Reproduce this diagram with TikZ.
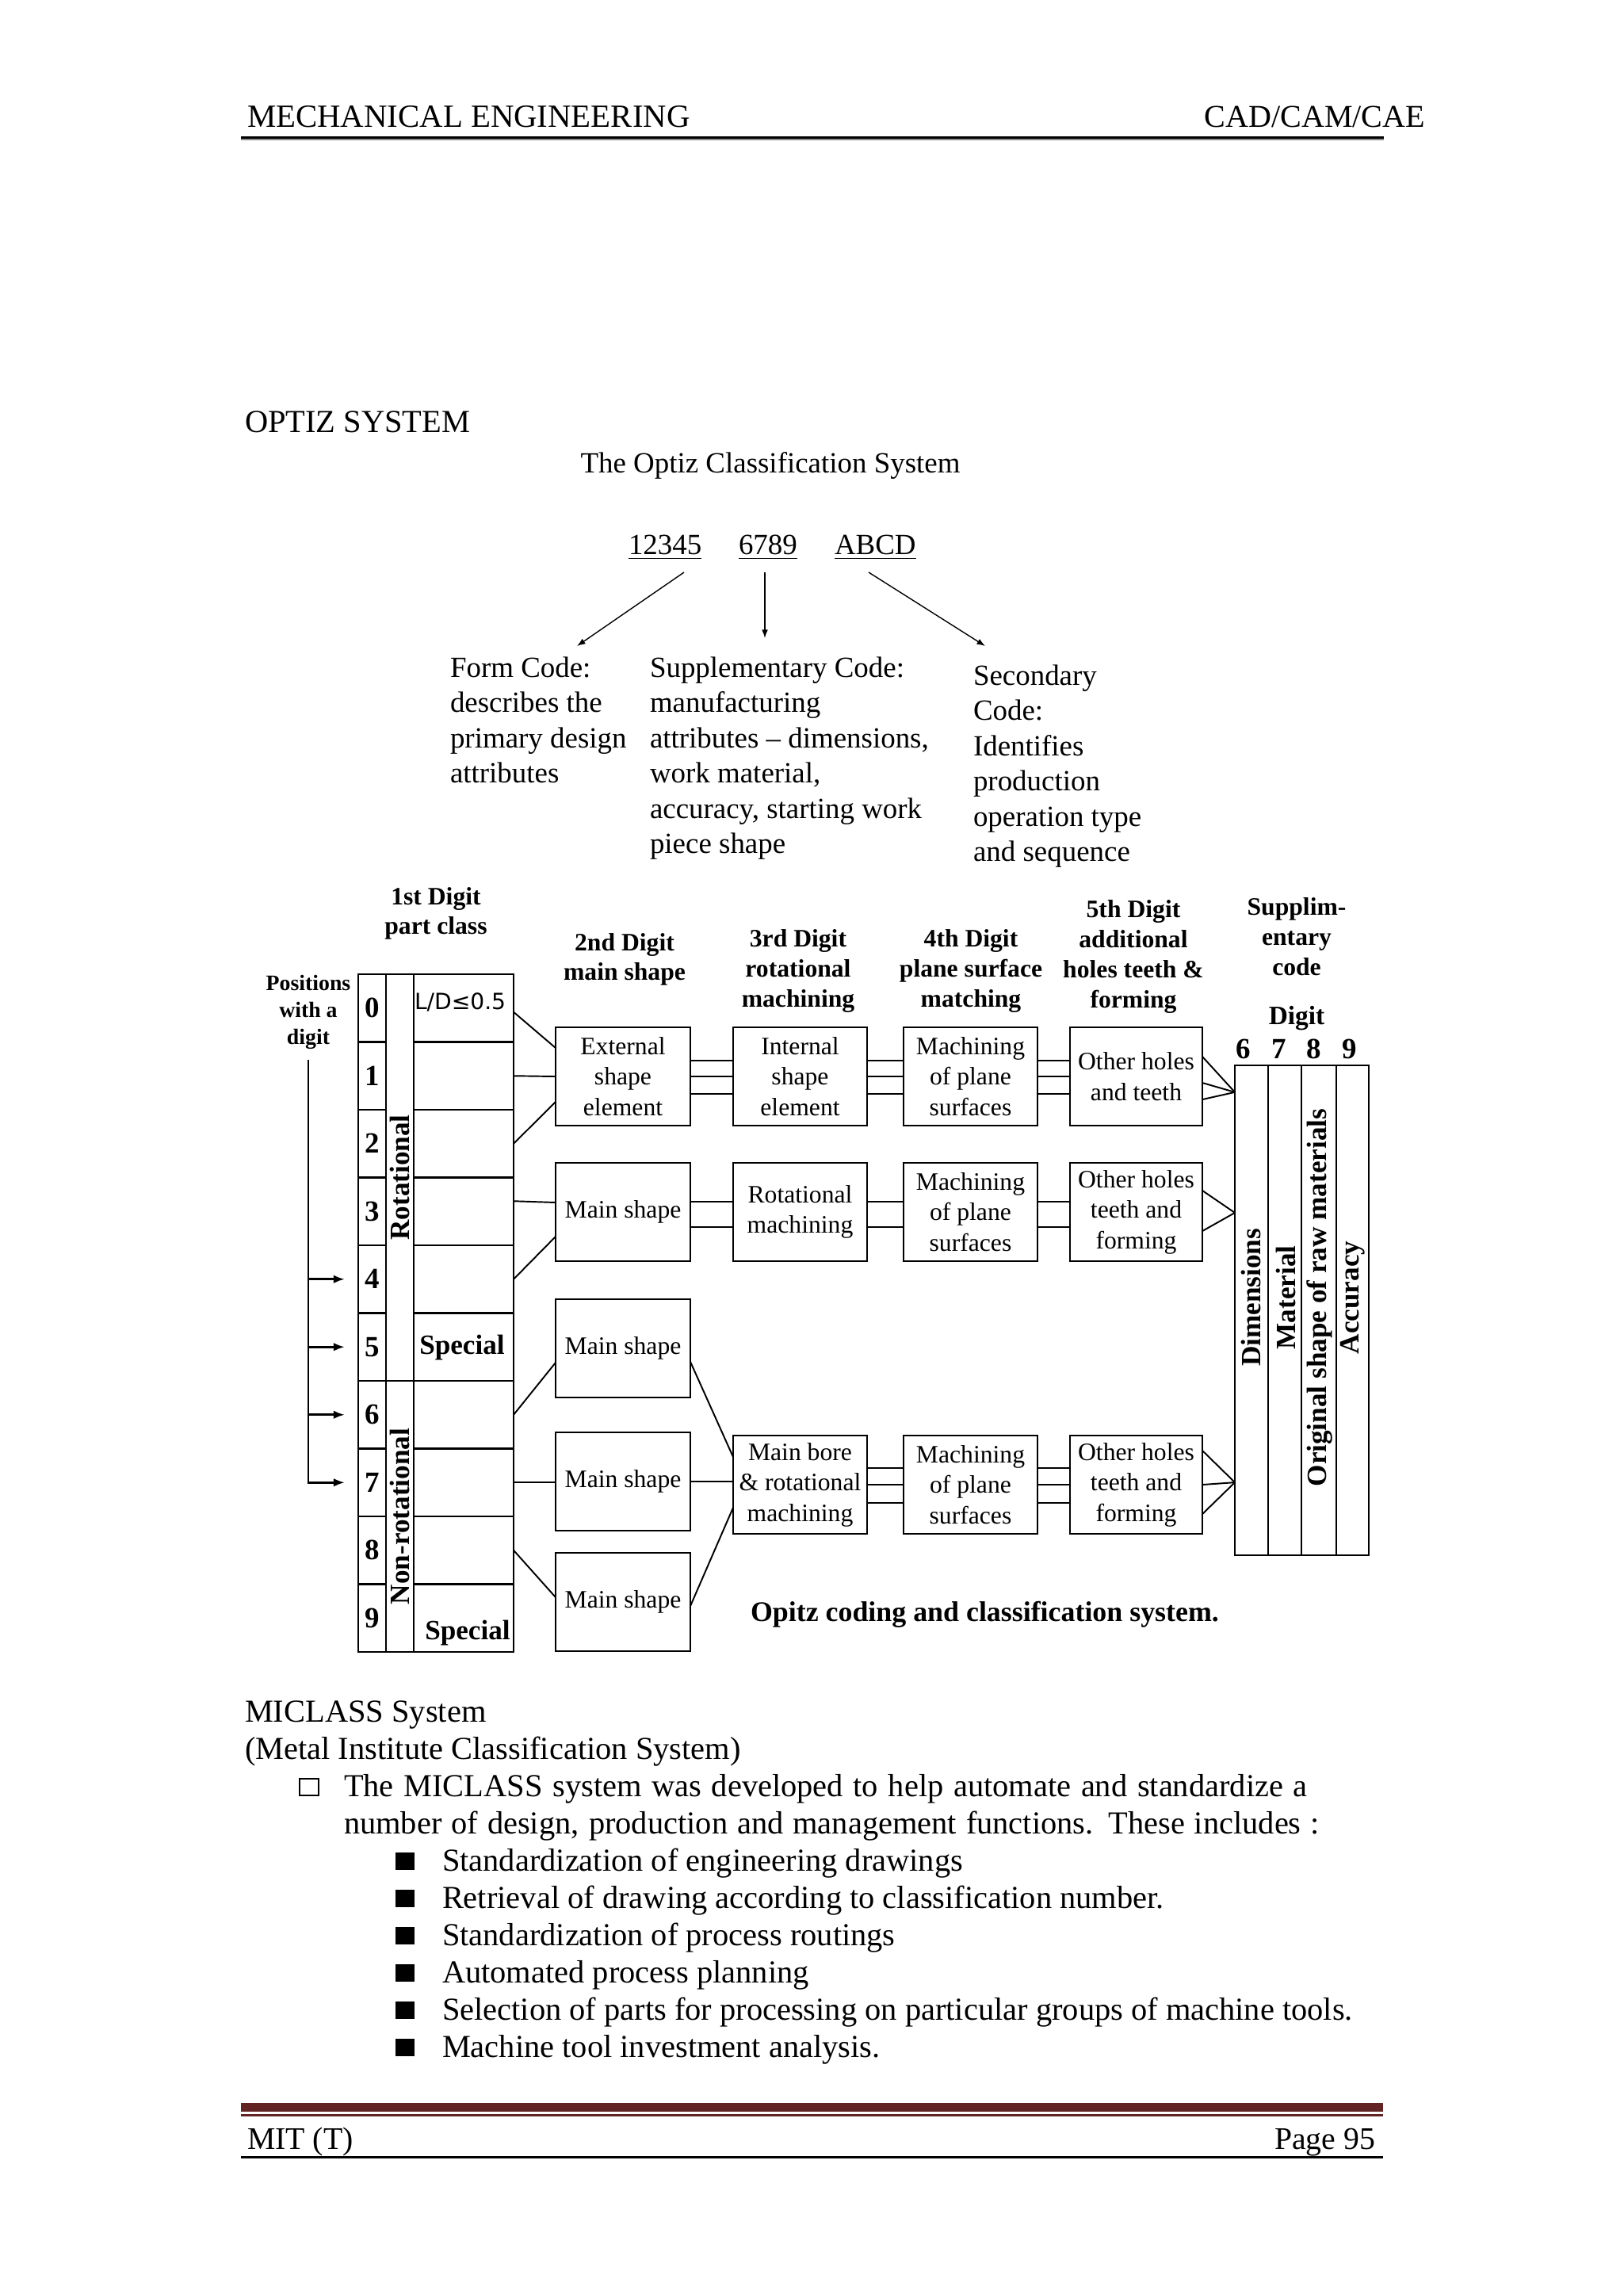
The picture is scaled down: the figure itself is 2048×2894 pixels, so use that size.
\documentclass[tikz,border=0pt]{standalone}
\usepackage{fontspec}
\setmainfont{Liberation Serif}
\newfontfamily\djv{DejaVu Sans}
\usetikzlibrary{arrows.meta,calc}
\definecolor{footred}{HTML}{622423}
\newcommand\myfs[2]{\fontsize{#1}{#2}\selectfont}
\begin{document}
\begin{tikzpicture}[x=0.01cm,y=-0.01cm,
  lbl/.style={inner sep=0,outer sep=0},
  obox/.style={draw,line width=0.7pt,inner sep=0,outer sep=0,align=center,minimum width=1.70cm,minimum height=1.24cm,font=\myfs{9}{10.95}},
  hdr/.style={inner sep=0,outer sep=0,align=center,anchor=north,font=\bfseries\myfs{9}{10.8}},
  cell/.style={draw,line width=0.7pt,inner sep=0,outer sep=0},
  conn/.style={line width=0.55pt},
  tarr/.style={line width=0.4pt,-{Latex[length=3pt,width=2.2pt]}},
  parr/.style={line width=0.8pt,-{Latex[length=4pt,width=3pt]},shorten >=0.17cm},
  body/.style={inner sep=0,outer sep=0,anchor=north west,align=left,font=\myfs{10.5}{12.66}},
  mic/.style={inner sep=0,outer sep=0,anchor=base west,font=\myfs{11.5}{13.4}},
  rlab/.style={inner sep=0,outer sep=0,rotate=90,font=\bfseries\myfs{10}{12}},
]
\useasboundingbox (0,0) rectangle (2048,2894);
\fill[white] (0,0) rectangle (2048,2894);

% ---------- page header ----------
\node[lbl,anchor=base west,font=\myfs{11.6}{13}] (hl) at (312,160) {MECHANICAL ENGINEERING};
\node[lbl,anchor=base east,font=\myfs{11.4}{13}] (hr) at (1798,160) {CAD/CAM/CAE};
\fill[black] (304,172) rectangle (1746,175);
\fill[black!45] (304,175) rectangle (1746,177);

% ---------- top part ----------
\node[lbl,anchor=base west,font=\myfs{11.5}{13}] (optiz) at (309,545) {OPTIZ SYSTEM};
\node[lbl,anchor=base,font=\myfs{10.5}{12}] (title) at (972,596) {The Optiz Classification System};
\node[lbl,anchor=base west,font=\myfs{10.5}{12}] (n1) at (793,699) {\underline{12345}};
\node[lbl,anchor=base west,font=\myfs{10.5}{12}] (n2) at (932,699) {\underline{6789}};
\node[lbl,anchor=base west,font=\myfs{10.5}{12}] (n3) at (1053,699) {\underline{ABCD}};

\node[body] (form) at (568,822.85) {\strut Form Code:\\describes the\\primary design\\attributes};
\node[body] (suppc) at (820,822.85) {\strut Supplementary Code:\\manufacturing\\attributes -- dimensions,\\work material,\\accuracy, starting work\\piece shape};
\node[body] (secc) at (1228,832.85) {\strut Secondary\\Code:\\Identifies\\production\\operation type\\and sequence};

\coordinate (a1s) at (863,722); \coordinate (a1e) at (728,815);
\coordinate (a2s) at (965,722); \coordinate (a2e) at (965,805);
\coordinate (a3s) at (1096,722); \coordinate (a3e) at (1243,815);
\draw[tarr] (a1s) -- (a1e);
\draw[tarr] (a2s) -- (a2e);
\draw[tarr] (a3s) -- (a3e);

% ---------- headers of the chart ----------
\node[lbl,anchor=north,align=center,font=\bfseries\myfs{7.9}{9.53}] (pos) at (389,1226.5) {\strut Positions\\with a\\digit};
\node[hdr,font=\bfseries\myfs{9}{10.5}] (h1) at (550,1116) {\strut 1st Digit\\part class};
\node[hdr,font=\bfseries\myfs{9}{10.5}] (h2) at (788,1174) {\strut 2nd Digit\\main shape};
\node[hdr] (h3) at (1007,1168) {\strut 3rd Digit\\rotational\\machining};
\node[hdr] (h4) at (1225,1168) {\strut 4th Digit\\plane surface\\matching};
\node[hdr] (h5) at (1430,1131) {\strut 5th Digit\\additional\\holes teeth \&\\forming};
\node[hdr] (h6) at (1636,1128) {\strut Supplim-\\entary\\code};
\node[lbl,anchor=base,font=\bfseries\myfs{9.5}{11}] (dg) at (1636,1292) {Digit};
\foreach \x/\d in {1569/6,1614/7,1658/8,1703/9}
  \node[lbl,anchor=base,font=\bfseries\myfs{10.5}{12}] (dh\d) at (\x,1335) {\d};

% ---------- first digit table ----------
\foreach \i in {0,...,9}{
  \node[cell,minimum width=0.35cm,minimum height=0.855cm,font=\bfseries\myfs{10.5}{12}] (d\i) at (469.5,{1271.75+85.5*\i}) {\i};
  \node[cell,minimum width=1.26cm,minimum height=0.855cm] (c\i) at (585,{1271.75+85.5*\i}) {};
}
\node[cell,minimum width=0.35cm,minimum height=5.13cm] (rot) at (504.5,1485.5) {};
\node[cell,minimum width=0.35cm,minimum height=3.42cm] (nrot) at (504.5,1913) {};
\node[rlab] (rotl) at (rot.center) {Rotational};
\node[rlab] (nrotl) at (nrot.center) {Non-rotational};
\node[lbl,anchor=base west,font=\djv\myfs{8}{10}] (ld) at (523,1273) {L/D≤0.5};
\node[lbl,anchor=base,font=\bfseries\myfs{10}{12}] (sp5) at (583,1708) {Special};
\node[lbl,anchor=base,font=\bfseries\myfs{10}{12}] (sp9) at (590,2068) {Special};

% positions arrows
\draw[parr] ([yshift=-0.14cm]pos.south) |- (d7.west);
\foreach \i in {4,5,6}
  \draw[parr] (pos.south |- d\i.west) -- (d\i.west);

% ---------- boxes ----------
\node[obox] (A1) at (786,1358) {External\\shape\\element};
\node[obox] (A2) at (786,1529) {Main shape};
\node[obox] (A3) at (786,1701) {Main shape};
\node[obox] (A4) at (786,1869) {Main shape};
\node[obox] (A5) at (786,2021) {Main shape};
\node[obox,minimum width=1.69cm] (B1) at (1009.5,1358) {Internal\\shape\\element};
\node[obox,minimum width=1.69cm] (B2) at (1009.5,1529) {Rotational\\machining};
\node[obox,minimum width=1.69cm] (B3) at (1009.5,1873) {Main bore\\\& rotational\\machining};
\node[obox,minimum width=1.69cm] (C1) at (1224.5,1358) {Machining\\of plane\\surfaces};
\node[obox,minimum width=1.69cm] (C2) at (1224.5,1529) {Machining\\of plane\\surfaces};
\node[obox,minimum width=1.69cm] (C3) at (1224.5,1873) {Machining\\of plane\\surfaces};
\node[obox,minimum width=1.67cm] (D1) at (1433.5,1358) {Other holes\\and teeth};
\node[obox,minimum width=1.67cm] (D2) at (1433.5,1529) {Other holes\\teeth and\\forming};
\node[obox,minimum width=1.67cm] (D3) at (1433.5,1873) {Other holes\\teeth and\\forming};

% supplementary table
\node[cell,minimum width=0.42cm,minimum height=6.18cm] (s6) at (1579,1653) {};
\node[cell,minimum width=0.42cm,minimum height=6.18cm] (s7) at (1621,1653) {};
\node[cell,minimum width=0.44cm,minimum height=6.18cm] (s8) at (1664,1653) {};
\node[cell,minimum width=0.41cm,minimum height=6.18cm] (s9) at (1706.5,1653) {};
\node[rlab] (t6) at (1578,1637) {Dimensions};
\node[rlab] (t7) at (1622,1637) {Material};
\node[rlab] (t8) at (1665,1637) {Original shape of raw materials};
\node[rlab] (t9) at (1707,1637) {Accuracy};

% ---------- connectors ----------
\draw[conn] ([yshift=-0.05cm]c0.east) -- ([yshift=0.36cm]A1.west);
\draw[conn] (c1.east) -- (A1.west);
\draw[conn] (c2.east) -- ([yshift=-0.32cm]A1.west);
\draw[conn] ([yshift=0.13cm]c3.east) -- ([yshift=0.12cm]A2.west);
\draw[conn] (c4.east) -- ([yshift=-0.31cm]A2.west);
\draw[conn] (c6.east) -- ([yshift=-0.18cm]A3.west);
\draw[conn] (c7.east) -- (A4.west |- c7.east);
\draw[conn] (c8.east) -- ([yshift=0.06cm]A5.west);

\foreach \s in {0.20,0,-0.22}{
  \draw[conn] ([yshift=\s*1cm]A1.east) -- ([yshift=\s*1cm]B1.west);
  \draw[conn] ([yshift=\s*1cm]B1.east) -- ([yshift=\s*1cm]C1.west);
  \draw[conn] ([yshift=\s*1cm]C1.east) -- ([yshift=\s*1cm]D1.west);
}
\foreach \s in {0.13,-0.19}{
  \draw[conn] ([yshift=\s*1cm]A2.east) -- ([yshift=\s*1cm]B2.west);
  \draw[conn] ([yshift=\s*1cm]B2.east) -- ([yshift=\s*1cm]C2.west);
  \draw[conn] ([yshift=\s*1cm]C2.east) -- ([yshift=\s*1cm]D2.west);
}
\draw[conn] ([yshift=-0.17cm]A3.east) -- ([yshift=0.35cm]B3.west);
\draw[conn] (A4.east) -- (B3.west |- A4.east);
\draw[conn] ([yshift=-0.05cm]A5.east) -- ([yshift=-0.29cm]B3.west);
\foreach \s in {0.21,0,-0.23}{
  \draw[conn] ([yshift=\s*1cm]B3.east) -- ([yshift=\s*1cm]C3.west);
  \draw[conn] ([yshift=\s*1cm]C3.east) -- ([yshift=\s*1cm]D3.west);
}
\foreach \s in {0.25,-0.08,-0.29}
  \draw[conn] ([yshift=\s*1cm]D1.east) -- ([yshift=2.75cm]s6.west);
\foreach \s in {0.27,-0.24}
  \draw[conn] ([yshift=\s*1cm]D2.east) -- ([yshift=1.23cm]s6.west);
\foreach \s in {0.43,0,-0.37}
  \draw[conn] ([yshift=\s*1cm]D3.east) -- ([yshift=-2.17cm]s6.west);

\node[lbl,anchor=base west,font=\bfseries\myfs{10.2}{12}] (capt) at (947,2045) {Opitz coding and classification system.};

% ---------- MICLASS ----------
\node[mic] (m1) at (309,2172) {MICLASS System};
\node[mic] (m2) at (309,2219) {(Metal Institute Classification System)};
\node[draw,line width=0.6pt,minimum width=0.24cm,minimum height=0.21cm,inner sep=0,outer sep=0] (bx) at (390,2254.5) {};
\node[mic] (m3) at (434,2266) {\makebox[12.15cm][s]{The MICLASS system was developed to help automate and standardize a}};
\node[mic] (m4) at (434,2313) {\makebox[12.30cm][s]{number of design, production and management functions. These includes :}};
\foreach \itm [count=\k] in {Standardization of engineering drawings,Retrieval of drawing according to classification number.,Standardization of process routings,Automated process planning,Selection of parts for processing on particular groups of machine tools.,Machine tool investment analysis.}{
  \node[mic] (li\k) at (558,{2313+47*\k}) {\itm};
  \fill[black] (499,{2313+47*\k-23}) rectangle (523,{2313+47*\k-1});
}

% ---------- page footer ----------
\fill[footred] (304,2653) rectangle (1745,2664);
\fill[footred] (304,2667) rectangle (1745,2669.5);
\node[lbl,anchor=base west,font=\myfs{11.3}{13}] (fl) at (312,2711) {MIT (T)};
\node[lbl,anchor=base east,font=\myfs{11.3}{13}] (fr) at (1735,2711) {Page 95};
\fill[black] (304,2720) rectangle (1745,2723);
\end{tikzpicture}
\end{document}
